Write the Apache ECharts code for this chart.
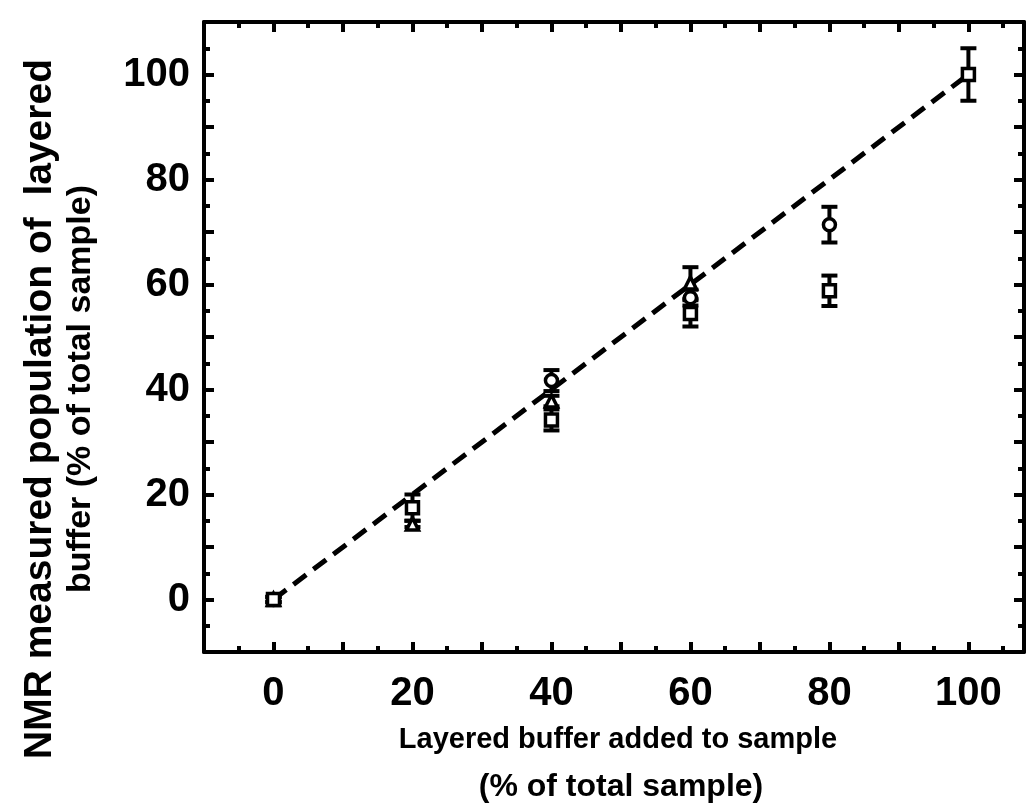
<!DOCTYPE html>
<html>
<head>
<meta charset="utf-8">
<script src="https://cdn.jsdelivr.net/npm/echarts@6/dist/echarts.min.js"></script>
<style>
html,body{margin:0;padding:0;background:#fff;}
#chart{width:1032px;height:811px;}
</style>
</head>
<body>
<div id="chart"></div>
<script>
// ---- data ----
var xValues = [0, 20, 40, 60, 80, 100];
var circleY   = [0, null, 41.7, 57.5, 71.4, null];
var circleErr = [0.5, null, 2, 1.5, 3.4, null];
var triangleY   = [0, 14.4, 37.8, 60.3, null, null];
var triangleErr = [0.5, 0.6, 1, 3, null, null];
var squareY   = [0, 17.5, 34.2, 54.5, 58.8, 100];
var squareErr = [0.5, 2.5, 2, 2.5, 2.9, 5];
var fitX = [0, 100];
var fitY = [0, 100];
var xTickLabels = [0, 20, 40, 60, 80, 100];
var yTickLabels = [0, 20, 40, 60, 80, 100];

var FONT = '"Liberation Sans", Arial, Helvetica, sans-serif';

function pts(ys) {
  var out = [];
  for (var i = 0; i < xValues.length; i++) if (ys[i] !== null) out.push([xValues[i], ys[i]]);
  return out;
}
function errPts(ys, es) {
  var out = [];
  for (var i = 0; i < xValues.length; i++) if (ys[i] !== null) out.push([xValues[i], ys[i], es[i]]);
  return out;
}
var allErr = errPts(circleY, circleErr).concat(errPts(triangleY, triangleErr), errPts(squareY, squareErr));
var fitData = fitX.map(function (x, i) { return [x, fitY[i]]; });

function errRender(params, api) {
  var x = api.value(0), y = api.value(1), e = api.value(2);
  var t = api.coord([x, y + e]), b = api.coord([x, y - e]);
  var w = 8;
  var st = { stroke: '#000', lineWidth: 4 };
  return {
    type: 'group',
    children: [
      { type: 'line', shape: { x1: t[0], y1: t[1], x2: b[0], y2: b[1] }, style: st },
      { type: 'line', shape: { x1: t[0] - w, y1: t[1], x2: t[0] + w, y2: t[1] }, style: st },
      { type: 'line', shape: { x1: b[0] - w, y1: b[1], x2: b[0] + w, y2: b[1] }, style: st }
    ]
  };
}

function markerSeries(sym, ys) {
  return {
    type: 'scatter', symbol: sym, symbolSize: 12, z: 5,
    data: pts(ys),
    itemStyle: { color: '#fff', borderColor: '#000', borderWidth: 3.5, opacity: 1 },
    emphasis: { disabled: true }
  };
}

var axisCommon = {
  type: 'value',
  axisLine: { show: true, onZero: false, lineStyle: { color: '#000', width: 4 } },
  axisTick: { show: true, inside: true, length: 10, lineStyle: { color: '#000', width: 4 } },
  minorTick: { show: true, splitNumber: 2, length: 6, lineStyle: { color: '#000', width: 4 } },
  splitLine: { show: false },
  minorSplitLine: { show: false }
};

var chart = echarts.init(document.getElementById('chart'), null, { renderer: 'canvas' });
chart.setOption({
  backgroundColor: '#fff',
  animation: false,
  grid: { left: 204, right: 8, top: 22, bottom: 159, containLabel: false },
  xAxis: [
    Object.assign({}, axisCommon, {
      min: -10, max: 108, interval: 10, position: 'bottom',
      axisLabel: {
        margin: 22, color: '#000', fontFamily: FONT, fontWeight: 'bold', fontSize: 40,
        formatter: function (v) { return xTickLabels.indexOf(v) >= 0 ? String(v) : ''; }
      }
    }),
    Object.assign({}, axisCommon, {
      min: -10, max: 108, interval: 10, position: 'top', axisLabel: { show: false }
    })
  ],
  yAxis: [
    Object.assign({}, axisCommon, {
      min: -10, max: 110, interval: 10, position: 'left',
      axisLabel: {
        margin: 14, color: '#000', fontFamily: FONT, fontWeight: 'bold', fontSize: 40,
        formatter: function (v) { return yTickLabels.indexOf(v) >= 0 ? String(v) : ''; }
      }
    }),
    Object.assign({}, axisCommon, {
      min: -10, max: 110, interval: 10, position: 'right', axisLabel: { show: false }
    })
  ],
  series: [
    {
      type: 'line', data: fitData, symbol: 'none', z: 3,
      lineStyle: { color: '#000', width: 5, type: [16, 9] }
    },
    {
      type: 'custom', renderItem: errRender, data: allErr, z: 4,
      encode: { x: 0, y: [1] }
    },
    markerSeries('circle', circleY),
    markerSeries('triangle', triangleY),
    markerSeries('rect', squareY)
  ],
  graphic: [
    { type: 'text', x: 618, y: 740, style: { text: 'Layered buffer added to sample', fill: '#000',
      font: 'bold 29px ' + FONT, textAlign: 'center', textVerticalAlign: 'middle' } },
    { type: 'text', x: 621, y: 787, style: { text: '(% of total sample)', fill: '#000',
      font: 'bold 32px ' + FONT, textAlign: 'center', textVerticalAlign: 'middle' } },
    { type: 'text', x: 40, y: 409, rotation: Math.PI / 2, style: { text: 'NMR measured population of  layered', fill: '#000',
      font: 'bold 39px ' + FONT, textAlign: 'center', textVerticalAlign: 'middle' } },
    { type: 'text', x: 81, y: 389, rotation: Math.PI / 2, style: { text: 'buffer (% of total sample)', fill: '#000',
      font: 'bold 34px ' + FONT, textAlign: 'center', textVerticalAlign: 'middle' } }
  ]
});
</script>
</body>
</html>
